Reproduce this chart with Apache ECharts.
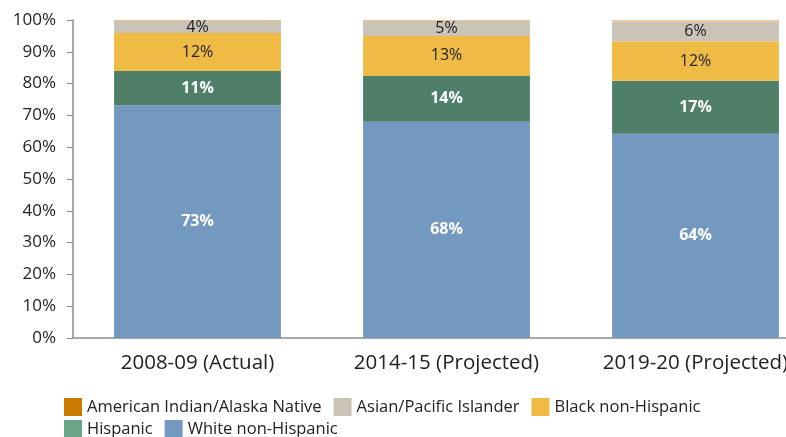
<!DOCTYPE html>
<html>
<head>
<meta charset="utf-8">
<style>
  html, body { margin: 0; padding: 0; background: #fff; }
  #chart { width: 786px; height: 437px; }
</style>
<script src="https://cdn.jsdelivr.net/npm/echarts@6/dist/echarts.min.js"></script>
</head>
<body>
<div id="chart"></div>
<script>
// categories and shares (percent)
var years = ['2008-09 (Actual)', '2014-15 (Projected)', '2019-20 (Projected)'];
var white = [73.2, 68.0, 64.2];
var hispanic = [10.8, 14.4, 16.7];
var black = [11.9, 12.6, 12.4];
var asian = [3.8, 4.7, 6.2];
var amIndian = [0.3, 0.3, 0.5];

var font = 'Open Sans';

function pct(p) { return Math.round(p.value) + '%'; }

function bar(name, data, color, labelColor, bold) {
    return {
        name: name,
        type: 'bar',
        stack: 'total',
        barWidth: '67%',
        data: data,
        itemStyle: { color: color },
        label: {
            show: labelColor != null,
            formatter: pct,
            color: labelColor,
            fontFamily: font,
            fontSize: 16,
            fontWeight: bold ? 'bold' : 'normal'
        }
    };
}

var legendText = { fontFamily: font, fontSize: 16.5, color: '#222' };

var app = echarts.init(document.getElementById('chart'));
var option = {
    animation: false,
    grid: { left: 73, top: 20, width: 747, height: 318, outerBoundsMode: 'none', containLabel: false },
    legend: [
        {
            left: 64, top: 398, padding: 0,
            icon: 'rect',
            itemWidth: 18, itemHeight: 18, itemGap: 12,
            textStyle: legendText,
            data: [
                { name: 'American Indian/Alaska Native', itemStyle: { color: '#c97a00' } },
                { name: 'Asian/Pacific Islander', itemStyle: { color: '#c9c3b8' } },
                { name: 'Black non-Hispanic', itemStyle: { color: '#f0bb45' } }
            ]
        },
        {
            left: 64, top: 420, padding: 0,
            icon: 'rect',
            itemWidth: 18, itemHeight: 18, itemGap: 12,
            textStyle: legendText,
            data: [
                { name: 'Hispanic', itemStyle: { color: '#6aa58a' } },
                { name: 'White non-Hispanic', itemStyle: { color: '#7399c0' } }
            ]
        }
    ],
    xAxis: {
        type: 'category',
        data: years,
        axisLine: { lineStyle: { color: '#8c8c8c', width: 1.5 } },
        axisTick: { length: 6, lineStyle: { color: '#8c8c8c' } },
        axisLabel: { fontFamily: font, fontSize: 20.5, color: '#222', margin: 15 }
    },
    yAxis: {
        type: 'value',
        min: 0, max: 100, interval: 10,
        splitLine: { show: false },
        axisLine: { show: true, lineStyle: { color: '#8c8c8c', width: 1.5 } },
        axisTick: { show: true, length: 6, lineStyle: { color: '#8c8c8c' } },
        axisLabel: { formatter: '{value}%', fontFamily: font, fontSize: 17, color: '#222', margin: 17 }
    },
    series: [
        bar('White non-Hispanic', white, '#7399c0', '#fff', true),
        bar('Hispanic', hispanic, '#4f7f68', '#fff', true),
        bar('Black non-Hispanic', black, '#f0bb45', '#222', false),
        bar('Asian/Pacific Islander', asian, '#c9c3b8', '#222', false),
        bar('American Indian/Alaska Native', amIndian, '#f0c48c', null, false)
    ]
};
app.setOption(option);
</script>
</body>
</html>
